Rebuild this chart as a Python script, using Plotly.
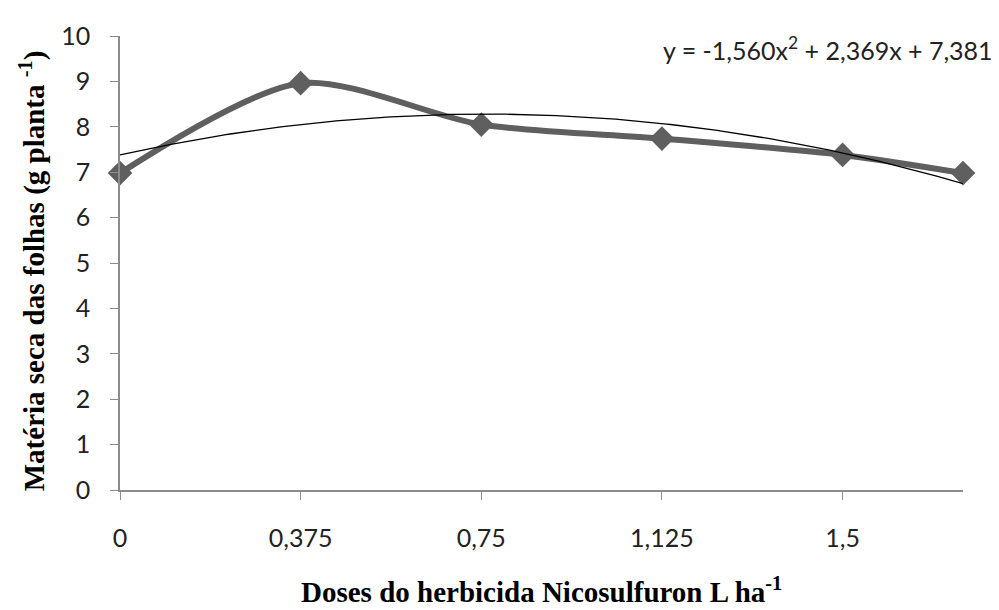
import numpy as np
import plotly.graph_objects as go

doses = [0, 0.375, 0.75, 1.125, 1.5, 1.75]
materia_seca = [6.98, 8.96, 8.05, 7.74, 7.38, 6.98]
trend_coeffs = [-1.560, 2.369, 7.381]  # from the chart's equation
x_tick_vals = [0, 0.375, 0.75, 1.125, 1.5]
x_tick_text = ["0", "0,375", "0,75", "1,125", "1,5"]
y_tick_vals = list(range(0, 11))

xt = np.linspace(doses[0], doses[-1], 200)
yt = np.polyval(trend_coeffs, xt)

fig = go.Figure()
fig.add_trace(go.Scatter(
    x=doses, y=materia_seca, mode="lines+markers",
    line=dict(color="#5f5f5f", width=6, shape="spline", smoothing=0.8),
    marker=dict(symbol="diamond", size=19, color="#5f5f5f"),
    cliponaxis=False, showlegend=False,
))
fig.add_trace(go.Scatter(
    x=xt, y=yt, mode="lines",
    line=dict(color="black", width=1.3),
    cliponaxis=False, showlegend=False,
))

tickfont = dict(family="Lato, Open Sans, sans-serif", size=25, color="#222")
serif_bold = dict(family="Liberation Serif, Times New Roman, serif", size=29, color="black",
                  weight="bold")
fig.update_layout(
    width=991, height=602,
    margin=dict(l=112, r=36, t=21, b=120),
    paper_bgcolor="white", plot_bgcolor="white",
    xaxis=dict(range=[0, 1.75], tickvals=x_tick_vals, ticktext=x_tick_text,
               showgrid=False, zeroline=False, showline=True, linecolor="#8c8c8c",
               linewidth=1.5, ticks="outside", ticklen=8, tickcolor="#8c8c8c",
               tickfont=tickfont, ticklabelstandoff=17),
    yaxis=dict(range=[0, 10], tickvals=y_tick_vals,
               showgrid=False, zeroline=False, showline=True, linecolor="#8c8c8c",
               linewidth=1.5, ticks="outside", ticklen=8, tickcolor="#8c8c8c",
               tickfont=tickfont, ticklabelstandoff=15),
    annotations=[
        dict(text="y = -1,560x<sup>2</sup> + 2,369x + 7,381", xref="paper", yref="paper",
             x=1.038, y=0.972, xanchor="right", yanchor="middle", showarrow=False,
             font=dict(family="Lato, Open Sans, sans-serif", size=25, color="#222")),
        dict(text="Matéria seca das folhas (g planta <sup>-1</sup>)", xref="paper", yref="paper",
             x=-0.1044, y=0.484, textangle=-90, xanchor="center", yanchor="middle",
             showarrow=False, font=serif_bold),
        dict(text="Doses do herbicida Nicosulfuron L ha<sup>-1</sup>", xref="paper", yref="paper",
             x=0.5, y=-0.221, xanchor="center", yanchor="middle", showarrow=False,
             font=serif_bold),
    ],
)

fig.write_html("out.html")
